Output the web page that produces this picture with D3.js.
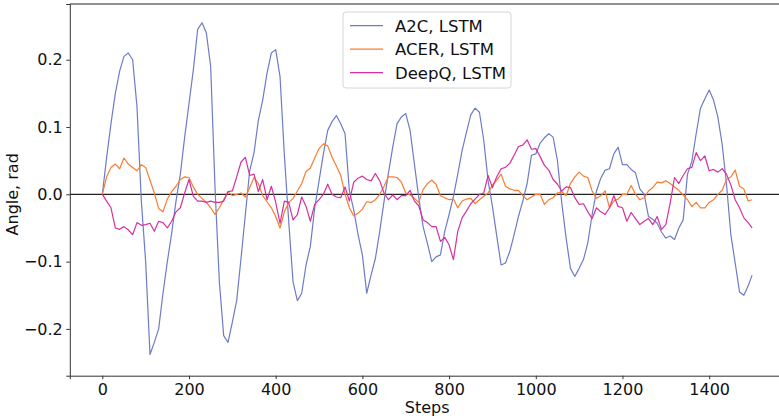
<!DOCTYPE html>
<html>
<head>
<meta charset="utf-8">
<script src="https://cdn.jsdelivr.net/npm/d3@7"></script>
<style>
  html, body { margin: 0; padding: 0; background: #fff; }
  svg { display: block; font-family: "DejaVu Sans", sans-serif; }
</style>
</head>
<body>
<svg id="chart" width="779" height="420"></svg>
<script>
// steps are sampled every 10 (last one is 1499)
var steps = d3.range(0, 1500, 10).concat([1499]);

var a2c = [
  0.0, 0.055, 0.105, 0.15, 0.183, 0.205, 0.21, 0.2, 0.13, -0.01,
  -0.10, -0.238, -0.22, -0.20, -0.147, -0.10, -0.058, -0.01, 0.03, 0.085,
  0.135, 0.185, 0.245, 0.255, 0.24, 0.19, 0.01, -0.13, -0.21, -0.22,
  -0.19, -0.158, -0.095, -0.03, 0.035, 0.062, 0.11, 0.14, 0.18, 0.21,
  0.215, 0.175, 0.058, -0.04, -0.13, -0.158, -0.147, -0.105, -0.077, -0.02,
  0.02, 0.06, 0.095, 0.108, 0.117, 0.105, 0.09, 0.005, -0.023, -0.06,
  -0.09, -0.147, -0.12, -0.095, -0.055, -0.01, 0.031, 0.07, 0.105, 0.115,
  0.12, 0.095, 0.045, -0.005, -0.048, -0.073, -0.1, -0.093, -0.09, -0.055,
  -0.03, -0.003, 0.03, 0.065, 0.092, 0.118, 0.128, 0.122, 0.08, 0.02,
  -0.018, -0.062, -0.105, -0.102, -0.085, -0.06, -0.033, -0.01, 0.016, 0.058,
  0.06, 0.076, 0.084, 0.09, 0.085, 0.05, -0.013, -0.065, -0.11, -0.122,
  -0.11, -0.097, -0.072, -0.03, 0.005, 0.024, 0.036, 0.038, 0.06, 0.07,
  0.044, 0.044, 0.037, 0.032, 0.008, 0.0, -0.033, -0.037, -0.043, -0.056,
  -0.065, -0.062, -0.067, -0.05, -0.038, 0.03, 0.049, 0.09, 0.128, 0.142,
  0.155, 0.14, 0.115, 0.074, 0.015, -0.06, -0.102, -0.145, -0.15, -0.136,
  -0.12
];

var acer = [
  0.0, 0.026, 0.04, 0.045, 0.038, 0.054, 0.045, 0.04, 0.035, 0.044,
  0.04, 0.021, 0.002, -0.021, -0.026, -0.007, 0.004, 0.012, 0.022, 0.026,
  0.025, 0.011, 0.0, -0.006, -0.012, -0.02, -0.03, -0.02, -0.008, 0.004,
  -0.002, 0.0, 0.002, -0.004, 0.01, 0.025, 0.016, -0.002, -0.011, -0.02,
  -0.033, -0.05, -0.026, -0.012, -0.006, 0.005, 0.016, 0.034, 0.039, 0.054,
  0.068, 0.075, 0.072, 0.055, 0.042, 0.028, 0.0, -0.02, -0.032, -0.028,
  -0.022, -0.011, -0.012, -0.008, 0.0, 0.012, 0.026, 0.026, 0.025, 0.018,
  0.002, -0.001, -0.006, -0.012, 0.007, 0.016, 0.021, 0.015, -0.002, -0.005,
  -0.008, -0.007, -0.02, -0.01, -0.007, -0.006, -0.014, -0.008, -0.003, 0.002,
  0.014, 0.021, 0.03, 0.012, 0.008, 0.006, 0.006, -0.002, -0.008, -0.004,
  0.0, 0.0, -0.015, -0.008, -0.005, 0.002, 0.004, -0.002, 0.016, 0.026,
  0.033, 0.027, 0.025, 0.005, -0.006, -0.002, 0.005, -0.02, -0.01, -0.007,
  0.0, 0.0, 0.013, 0.0, -0.008, -0.005, 0.005, 0.01, 0.018, 0.017,
  0.02, 0.016, 0.011, 0.006, -0.001, -0.008, -0.018, -0.012, -0.02, -0.02,
  -0.012, -0.008, 0.0, 0.006, 0.022, 0.026, 0.036, 0.012, 0.008, -0.01,
  -0.008
];

var deepq = [
  0.0, -0.01, -0.02, -0.05, -0.052, -0.048, -0.053, -0.06, -0.042, -0.046,
  -0.045, -0.043, -0.055, -0.04, -0.042, -0.05, -0.04, -0.026, -0.02, 0.002,
  0.022, -0.003, -0.01, -0.01, -0.012, -0.01, -0.012, -0.012, -0.01, 0.004,
  0.005, 0.026, 0.048, 0.055, 0.028, 0.03, 0.004, 0.022, -0.008, 0.012,
  -0.012, -0.043, -0.01, -0.012, -0.038, -0.03, -0.004, -0.018, -0.04, -0.015,
  -0.008, 0.0, 0.015, 0.0, -0.004, -0.005, 0.011, -0.01, 0.018, 0.024,
  0.027, 0.022, 0.02, 0.031, 0.02, 0.002, -0.008, -0.001, -0.008, -0.002,
  -0.002, 0.006, -0.01, -0.017, -0.038, -0.042, -0.048, -0.048, -0.07, -0.064,
  -0.075, -0.097, -0.055, -0.035, -0.025, -0.014, -0.007, 0.0, 0.002, 0.028,
  0.01, 0.026, 0.038, 0.04, 0.046, 0.058, 0.071, 0.073, 0.081, 0.067,
  0.068, 0.056, 0.043, 0.036, 0.022, 0.015, 0.005, 0.011, 0.01, -0.005,
  -0.015, -0.014, -0.026, -0.036, -0.02, -0.026, -0.03, -0.02, -0.002, -0.018,
  -0.02, -0.04, -0.027, -0.036, -0.045, -0.04, -0.036, -0.045, -0.033, -0.052,
  -0.045, -0.013, 0.025, 0.016, 0.028, 0.038, 0.04, 0.062, 0.05, 0.057,
  0.035, 0.037, 0.033, 0.038, 0.03, 0.014, -0.008, -0.02, -0.035, -0.042,
  -0.05
];

var seriesNames = ['A2C, LSTM', 'ACER, LSTM', 'DeepQ, LSTM'];
var seriesColors = ['#6e7bc8', '#f97c30', '#d4319e'];
var xTicks = [0, 200, 400, 600, 800, 1000, 1200, 1400];
var yTicks = [-0.2, -0.1, 0.0, 0.1, 0.2];

var series = [a2c, acer, deepq].map(function(vals, i) {
  return {
    name: seriesNames[i],
    color: seriesColors[i],
    points: steps.map(function(s, j) { return {x: s, y: vals[j]}; })
  };
});

var svg = d3.select('#chart');

// axes box (right spine falls off the canvas like in the original crop)
var boxLeft = 69.8, boxRight = 784.6, boxTop = 4, boxBottom = 375.7;

var x = d3.scaleLinear()
  .domain([-75, 1574])
  .range([boxLeft, boxRight]);

var y = d3.scaleLinear()
  .domain([-0.2695, 0.2828])
  .range([boxBottom, boxTop]);

// zero line
svg.append('line')
  .attr('x1', boxLeft).attr('x2', boxRight)
  .attr('y1', y(0)).attr('y2', y(0))
  .attr('stroke', '#222')
  .attr('stroke-width', 1.2);

var line = d3.line()
  .x(function(d) { return x(d.x); })
  .y(function(d) { return y(d.y); });

svg.selectAll('.series')
  .data(series)
  .enter()
  .append('path')
  .attr('class', 'series')
  .attr('d', function(d) { return line(d.points); })
  .attr('fill', 'none')
  .attr('stroke', function(d) { return d.color; })
  .attr('stroke-width', 1.2)
  .attr('stroke-linejoin', 'round');

// top spine
svg.append('line')
  .attr('x1', boxLeft).attr('x2', boxRight).attr('y1', boxTop).attr('y2', boxTop)
  .attr('stroke', '#222').attr('stroke-width', 1);

var xAxis = svg.append('g')
  .attr('transform', 'translate(0,' + boxBottom + ')')
  .call(d3.axisBottom(x).tickValues(xTicks).tickFormat(d3.format('d'))
    .tickSize(3.5).tickPadding(4));

var yAxis = svg.append('g')
  .attr('transform', 'translate(' + boxLeft + ',0)')
  .call(d3.axisLeft(y).tickValues(yTicks).tickFormat(d3.format('.1f'))
    .tickSize(3.5).tickPadding(3.5));

[xAxis, yAxis].forEach(function(g) {
  g.select('.domain').attr('stroke', '#333').attr('stroke-width', 1);
  g.selectAll('.tick line').attr('stroke', '#333');
  g.selectAll('.tick text')
    .attr('fill', '#111')
    .style('font-family', 'DejaVu Sans')
    .style('font-size', '16px');
});

// axis titles
svg.append('text')
  .attr('x', (boxLeft + boxRight) / 2)
  .attr('y', 413)
  .attr('text-anchor', 'middle')
  .style('font-size', '16px')
  .attr('fill', '#111')
  .text('Steps');

svg.append('text')
  .attr('transform', 'translate(18,' + y(0) + ') rotate(-90)')
  .attr('text-anchor', 'middle')
  .style('font-size', '16px')
  .attr('fill', '#111')
  .text('Angle, rad');

// legend
var legend = svg.append('g').attr('transform', 'translate(343,12)');

legend.append('rect')
  .attr('width', 168)
  .attr('height', 76)
  .attr('rx', 3)
  .attr('fill', '#fff')
  .attr('fill-opacity', 0.8)
  .attr('stroke', '#d6d6d6');

var rows = legend.selectAll('.row')
  .data(series)
  .enter()
  .append('g')
  .attr('class', 'row')
  .attr('transform', function(d, i) { return 'translate(0,' + (13.7 + i * 23.5) + ')'; });

rows.append('line')
  .attr('x1', 7).attr('x2', 40)
  .attr('stroke', function(d) { return d.color; })
  .attr('stroke-width', 1.2);

rows.append('text')
  .attr('x', 52)
  .attr('y', 6)
  .style('font-size', '16.5px')
  .attr('fill', '#111')
  .text(function(d) { return d.name; });
</script>
</body>
</html>
